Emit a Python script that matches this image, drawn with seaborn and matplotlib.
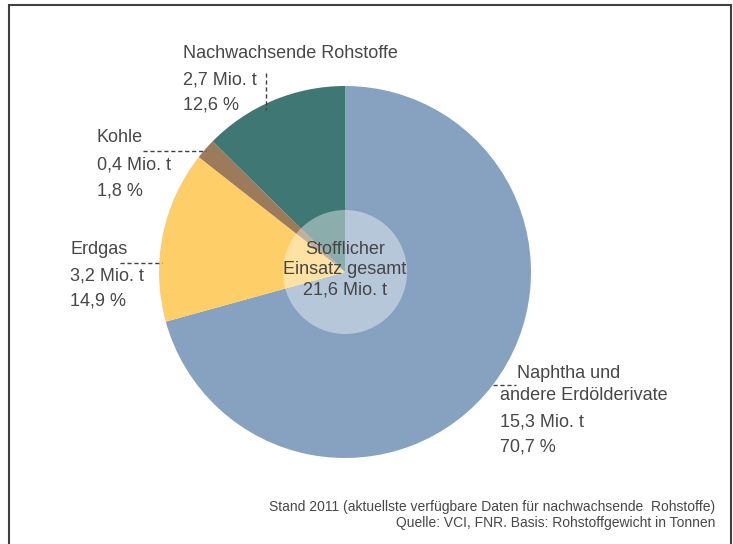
import matplotlib
matplotlib.use('Agg')
from matplotlib import pyplot as plt
from matplotlib.patches import Circle, Rectangle
import seaborn as sns

sns.set_theme(style='white')
plt.rcParams['font.family'] = ['Liberation Sans', 'DejaVu Sans']

# data
sources = ['Naphtha und\nandere Erdölderivate', 'Erdgas', 'Kohle', 'Nachwachsende Rohstoffe']
mio_t = ['15,3', '3,2', '0,4', '2,7']
shares = [70.7, 14.9, 1.8, 12.6]
colors = ['#87a2c1', '#fecf69', '#9c7b5d', '#3e7774']
total_label = 'Stofflicher\nEinsatz gesamt\n21,6 Mio. t'
footnote = ['Stand 2011 (aktuellste verfügbare Daten für nachwachsende  Rohstoffe)',
            'Quelle: VCI, FNR. Basis: Rohstoffgewicht in Tonnen']

W, H = 733, 544
fig = plt.figure(figsize=(W / 100, H / 100), dpi=100)
ax = fig.add_axes([0, 0, 1, 1])

cx, cy, r = 345, H - 272, 186
ax.pie(shares, colors=colors, startangle=90, counterclock=False,
       center=(cx, cy), radius=r, frame=True,
       wedgeprops=dict(linewidth=0))
ax.set_xlim(0, W)
ax.set_ylim(0, H)
ax.set_aspect('equal')
ax.axis('off')

# inner highlight circle
ax.add_patch(Circle((cx, cy), 62, facecolor='white', alpha=0.4, edgecolor='none', zorder=3))
ax.text(cx, cy + 2, total_label, ha='center', va='center', fontsize=13,
        color='#454545', linespacing=1.25, zorder=4)

txt = dict(color='#474747', fontsize=13, ha='left', va='center')
dash = dict(color='#404040', lw=1, ls=(0, (3, 2)))


def y(p):
    return H - p


def val_lines(x, top, i, step=25.5):
    ax.text(x, y(top), f'{mio_t[i]} Mio. t', **txt)
    ax.text(x, y(top + step), f'{shares[i]:.1f} %'.replace('.', ','), **txt)


# Nachwachsende Rohstoffe
ax.text(183, y(53), sources[3], **txt)
val_lines(183, 80, 3)
ax.plot([266, 266], [y(73), y(110)], **dash)

# Kohle
ax.text(97, y(137), sources[2], **txt)
val_lines(97, 165, 2)
ax.plot([143, 206], [y(151), y(151)], **dash)

# Erdgas
ax.text(70, y(249), sources[1], **txt)
val_lines(70, 276, 1)
ax.plot([120, 162], [y(263), y(263)], **dash)

# Naphtha
ax.text(517, y(373), 'Naphtha und', **txt)
ax.text(500, y(396), 'andere Erdölderivate', **txt)
val_lines(500, 422, 0, step=24.5)
ax.plot([493, 516], [y(385), y(385)], **dash)

# footnote
ax.text(715, y(507), footnote[0], color='#474747', fontsize=10, ha='right', va='center')
ax.text(715, y(523), footnote[1], color='#474747', fontsize=10, ha='right', va='center')

# frame
ax.add_patch(Rectangle((9, -10), 722, H - 5 + 10, facecolor='none',
                       edgecolor='#404040', lw=1.5, zorder=5, clip_on=False))

fig.savefig('out.png', dpi=100)
